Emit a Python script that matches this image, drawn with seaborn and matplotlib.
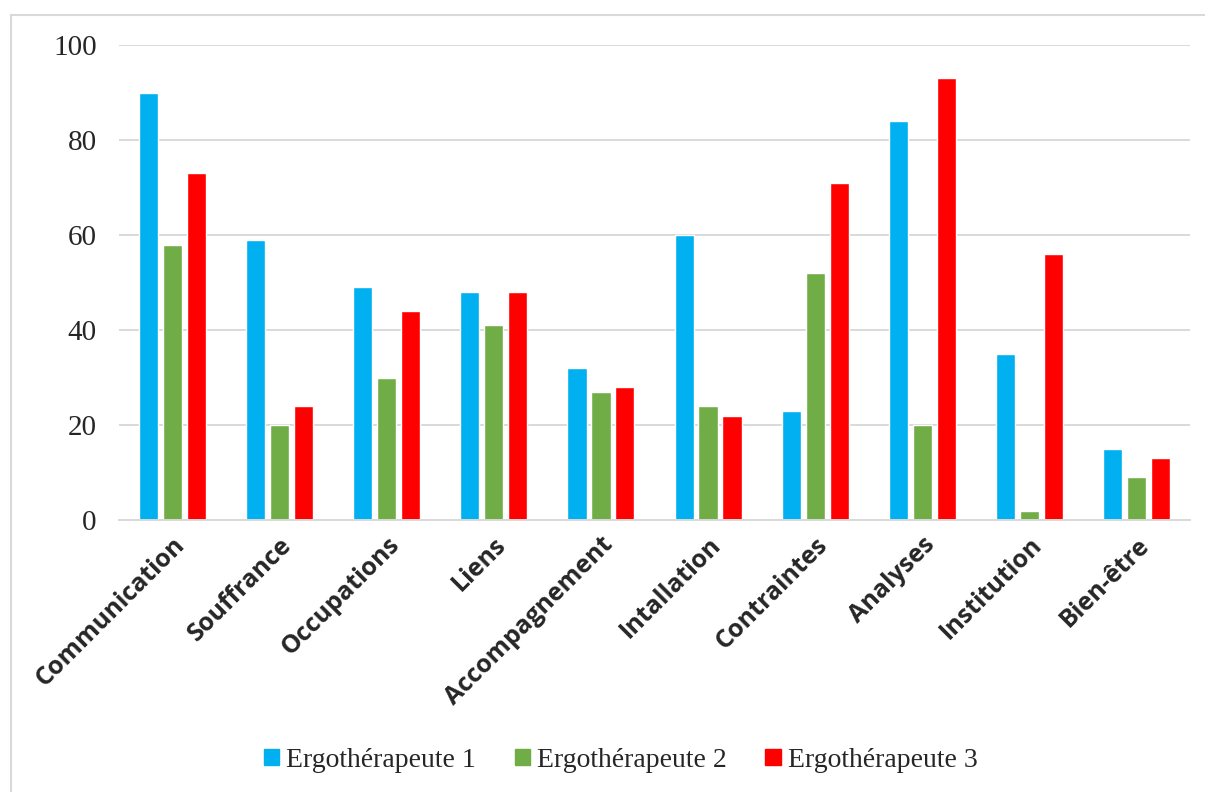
import matplotlib
matplotlib.use("Agg")
import matplotlib.pyplot as plt
import matplotlib.patches as mpatches
import seaborn as sns
import pandas as pd

categories = ["Communication", "Souffrance", "Occupations", "Liens", "Accompagnement",
              "Intallation", "Contraintes", "Analyses", "Institution", "Bien-être"]
series_names = ["Ergothérapeute 1", "Ergothérapeute 2", "Ergothérapeute 3"]
ergo1 = [90, 59, 49, 48, 32, 60, 23, 84, 35, 15]
ergo2 = [58, 20, 30, 41, 27, 24, 52, 20, 2, 9]
ergo3 = [73, 24, 44, 48, 28, 22, 71, 93, 56, 13]
colors = ["#00B0F0", "#70AD47", "#FF0000"]
yticks = [0, 20, 40, 60, 80, 100]

rows = []
for name, vals in zip(series_names, [ergo1, ergo2, ergo3]):
    for c, v in zip(categories, vals):
        rows.append({"cat": c, "serie": name, "val": v})
df = pd.DataFrame(rows)

sns.set_style("white")
fig = plt.figure(figsize=(12.05, 7.92), dpi=100)
ax = fig.add_axes([119/1205, 1-520/792, (1190-119)/1205, (520-45)/792])

sns.barplot(data=df, x="cat", y="val", hue="serie", order=categories,
            hue_order=series_names, palette=colors, width=0.67, gap=0.2,
            ax=ax, legend=False, saturation=1)

ax.set_ylim(0, 100)
ax.set_xlim(-0.5, len(categories) - 0.5)
ax.set_yticks(yticks)
ax.set_yticklabels([str(t) for t in yticks], fontfamily="Liberation Serif", fontsize=21)
ax.yaxis.grid(True, color="#d9d9d9", linewidth=1.4)
ax.set_axisbelow(True)
for s in ["top", "right", "left"]:
    ax.spines[s].set_visible(False)
ax.spines["bottom"].set_color("#d9d9d9")
ax.spines["bottom"].set_linewidth(1.4)
ax.tick_params(axis="both", length=0)
ax.tick_params(axis="y", pad=16)
ax.set_xlabel("")
ax.set_ylabel("")
ax.set_xticks(range(len(categories)))
ax.set_xticklabels(categories, rotation=45, ha="right", va="top",
                   rotation_mode="anchor", fontfamily="Open Sans",
                   fontweight="bold", fontsize=18)
ax.tick_params(axis="x", pad=9)

handles = [mpatches.Patch(color=c, label=n) for c, n in zip(colors, series_names)]
fig.legend(handles=handles, loc="center", bbox_to_anchor=(0.515, 0.04), ncol=3,
           frameon=False, prop={"family": "Liberation Serif", "size": 20},
           handlelength=0.55, handleheight=0.55, handletextpad=0.25, columnspacing=1.4)

border = mpatches.Rectangle((11/1205, -0.05), 1.2, 1 - 15/792 + 0.05,
                            transform=fig.transFigure, fill=False,
                            edgecolor="#d9d9d9", linewidth=1.5)
fig.patches.append(border)

fig.savefig("out.png", dpi=100)
